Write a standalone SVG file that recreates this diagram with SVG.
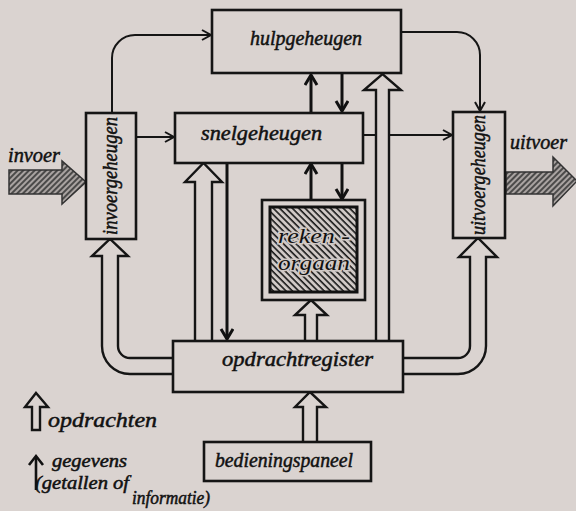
<svg xmlns="http://www.w3.org/2000/svg" width="576" height="511" viewBox="0 0 576 511">
<defs>
<style>
.bg{fill:#dad3d0}
.box{fill:#dad3d0;stroke:#151515;stroke-width:2.6}
.ln{fill:none;stroke:#151515;stroke-width:2}
.dl{fill:none;stroke:#111;stroke-width:3}
.hol{fill:#dad3d0;stroke:#151515;stroke-width:2.4;stroke-linejoin:miter}
.t{font-family:"Liberation Serif","DejaVu Serif",serif;font-style:italic;font-size:21px;fill:#111;stroke:#111;stroke-width:0.5px}
.s{font-size:18px}
.tc{text-anchor:middle}
.halo{paint-order:stroke;stroke:#d0c9c6;stroke-width:3px}
</style>
<marker id="chev" markerUnits="userSpaceOnUse" markerWidth="14" markerHeight="14" refX="10" refY="6" orient="auto">
<path d="M1,1 L10,6 L1,11" fill="none" stroke="#151515" stroke-width="2"/>
</marker>
<marker id="darr" markerUnits="userSpaceOnUse" markerWidth="16" markerHeight="16" refX="11" refY="7" orient="auto">
<path d="M1,1 L11,7 L1,13" fill="none" stroke="#111" stroke-width="3"/>
</marker>
<pattern id="hatchA" patternUnits="userSpaceOnUse" width="4" height="4" patternTransform="rotate(45)">
<rect width="4" height="4" fill="#a9a3a1"/>
<line x1="1" y1="0" x2="1" y2="4" stroke="#333" stroke-width="1.6"/>
</pattern>
<pattern id="hatchB" patternUnits="userSpaceOnUse" width="4.5" height="4.5" patternTransform="rotate(-45)">
<rect width="4.5" height="4.5" fill="#d0c9c6"/>
<line x1="1" y1="0" x2="1" y2="4.5" stroke="#1a1a1a" stroke-width="1.6"/>
</pattern>
</defs>
<rect class="bg" x="0" y="0" width="576" height="511"/>

<g id="connectors">
<path class="ln" d="M112,113 L112,58 A23,23 0 0 1 135,35 L211,35" marker-end="url(#chev)"/>
<path class="ln" d="M137,137 L174,137" marker-end="url(#chev)"/>
<path class="ln" d="M401,32 L457,32 A23,23 0 0 1 480,55 L480,111" marker-end="url(#chev)"/>
<path class="ln" d="M363,135 L452,135" marker-end="url(#chev)"/>
<path class="dl" d="M311,112 L311,75" marker-end="url(#darr)"/>
<path class="dl" d="M342,74 L342,111" marker-end="url(#darr)"/>
<path class="dl" d="M311,199 L311,164" marker-end="url(#darr)"/>
<path class="dl" d="M342,164 L342,199" marker-end="url(#darr)"/>
<path class="dl" d="M227,163 L227,339" marker-end="url(#darr)"/>
<path class="hol" d="M195,341 L195,182 L185,182 L203.5,163 L222,182 L212,182 L212,341"/>
<path class="hol" d="M305,341 L305,315 L295,315 L311,300 L327,315 L317,315 L317,341"/>
<path class="hol" d="M376,341 L376,90 L364,90 L382.5,74 L401,90 L389,90 L389,341"/>
<path class="hol" d="M303,442 L303,407 L295,407 L310,392 L326,407 L317,407 L317,442"/>
<path class="hol" d="M173,374 L130,374 A28,28 0 0 1 102,346 L102,256 L92,256 L110,239 L128,256 L118,256 L118,346 A12,12 0 0 0 130,358 L173,358"/>
<path class="hol" d="M403,374 L458,374 A28,28 0 0 0 486,346 L486,257 L497,257 L478,238 L459,257 L470,257 L470,346 A12,12 0 0 1 458,358 L403,358"/>
</g>

<g id="invoer">
<path d="M9,170 L62,170 L62,161 L86,182 L62,204 L62,194 L9,194 Z" fill="url(#hatchA)" stroke="#333" stroke-width="1.5"/>
<text class="t" x="8" y="162" textLength="52" lengthAdjust="spacingAndGlyphs">invoer</text>
</g>
<g id="uitvoer">
<path d="M506,172 L553,172 L553,157 L577,181 L553,206 L553,194 L506,194 Z" fill="url(#hatchA)" stroke="#333" stroke-width="1.5"/>
<text class="t" x="510" y="149" textLength="57" lengthAdjust="spacingAndGlyphs">uitvoer</text>
</g>

<g id="hulpgeheugen">
<rect class="box" x="212" y="10" width="189" height="63"/>
<text class="t" x="250" y="45" textLength="112" lengthAdjust="spacingAndGlyphs">hulpgeheugen</text>
</g>
<g id="snelgeheugen">
<rect class="box" x="175" y="113" width="188" height="50"/>
<text class="t" x="201" y="140" textLength="121" lengthAdjust="spacingAndGlyphs">snelgeheugen</text>
</g>
<g id="invoergeheugen">
<rect class="box" x="86" y="113" width="50" height="126"/>
<text class="t tc" transform="translate(117,176) rotate(-90)" textLength="118" lengthAdjust="spacingAndGlyphs">invoergeheugen</text>
</g>
<g id="uitvoergeheugen">
<rect class="box" x="453" y="112" width="52" height="126"/>
<text class="t tc" transform="translate(485,175) rotate(-90)" textLength="120" lengthAdjust="spacingAndGlyphs">uitvoergeheugen</text>
</g>
<g id="rekenorgaan">
<rect class="box" x="262" y="200" width="103" height="100"/>
<rect x="270" y="207" width="87" height="85" fill="url(#hatchB)" stroke="#111" stroke-width="3"/>
<text class="t halo" x="278" y="243" textLength="72" lengthAdjust="spacingAndGlyphs">reken -</text>
<text class="t halo" x="278" y="270" textLength="72" lengthAdjust="spacingAndGlyphs">orgaan</text>
</g>
<g id="opdrachtregister">
<rect class="box" x="173" y="341" width="230" height="51"/>
<text class="t" x="222" y="366" textLength="151" lengthAdjust="spacingAndGlyphs">opdrachtregister</text>
</g>
<g id="bedieningspaneel">
<rect class="box" x="204" y="442" width="167" height="39"/>
<text class="t" x="215" y="467" textLength="138" lengthAdjust="spacingAndGlyphs">bedieningspaneel</text>
</g>

<g id="legend">
<path class="hol" d="M32,430 L32,407 L25,407 L36,393 L48,407 L40,407 L40,430 Z"/>
<text class="t" x="48" y="427" textLength="109" lengthAdjust="spacingAndGlyphs">opdrachten</text>
<path d="M36,490 L36,458" fill="none" stroke="#111" stroke-width="2.6"/>
<path d="M29,465 L36,456 L43,465" fill="none" stroke="#111" stroke-width="2.6"/>
<text class="t s" x="52" y="467" textLength="75" lengthAdjust="spacingAndGlyphs">gegevens</text>
<text class="t s" x="35" y="489" textLength="94" lengthAdjust="spacingAndGlyphs">(getallen of</text>
<text class="t s" x="132" y="504" textLength="78" lengthAdjust="spacingAndGlyphs">informatie)</text>
</g>
</svg>
